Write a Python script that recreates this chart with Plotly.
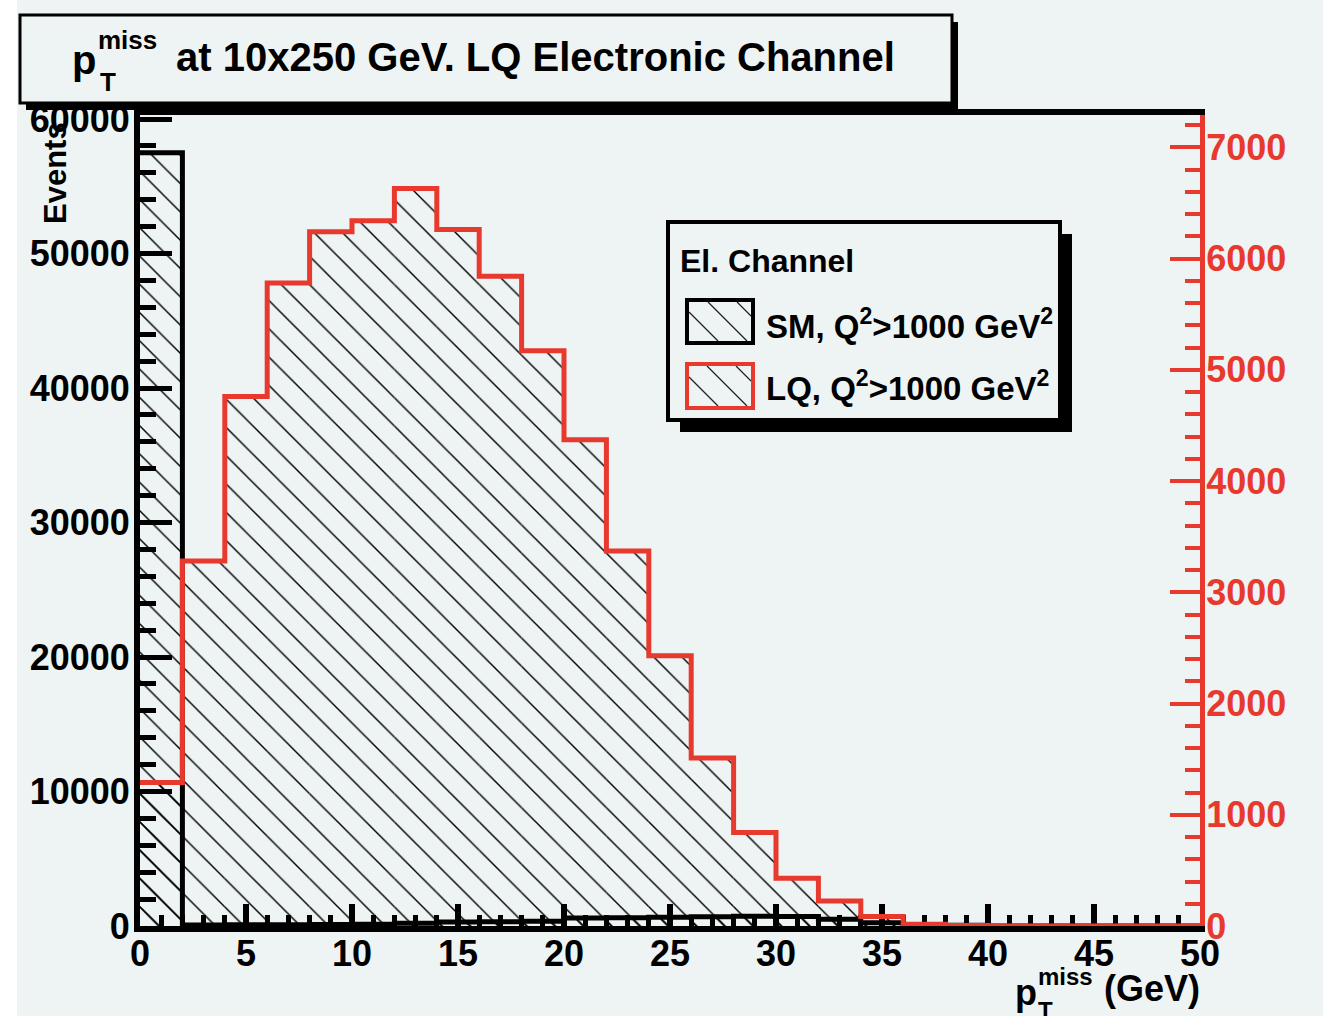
import plotly.graph_objects as go

# ---- histogram data: 2 GeV bins of missing pT ----
bin_edges = list(range(0, 52, 2))
sm_events = [57500, 80, 90, 100, 110, 130, 200, 300, 320, 350, 600, 620, 650,
             680, 720, 700, 500, 250, 100, 50, 0, 0, 0, 0, 0]
lq_events = [1290, 3280, 4760, 5780, 6240, 6340, 6630, 6260, 5840, 5170, 4370,
             3370, 2430, 1510, 840, 430, 225, 85, 15, 5, 0, 0, 0, 0, 0]
x_ticks = [0, 5, 10, 15, 20, 25, 30, 35, 40, 45, 50]

BG = "#eef3f3"
RED = "#e8392f"
FONT = "Liberation Sans"

W, H = 1323, 1016
ML, MR, MT, MB = 140, 123, 115, 90
PW, PH = W - ML - MR, H - MT - MB


def px(x):
    return (x - ML) / PW


def py(y):
    return (H - MB - y) / PH


centers = [(a + b) / 2 for a, b in zip(bin_edges[:-1], bin_edges[1:])]
widths = [b - a for a, b in zip(bin_edges[:-1], bin_edges[1:])]

hatch = dict(shape="\\", size=20, solidity=0.07, fillmode="replace")

fig = go.Figure()
fig.add_trace(go.Bar(x=centers, y=sm_events, width=widths, yaxis="y",
                     marker=dict(color="black", pattern=hatch, line=dict(width=0)),
                     hoverinfo="skip"))
fig.add_trace(go.Scatter(x=bin_edges, y=sm_events + [sm_events[-1]], yaxis="y",
                         mode="lines", line=dict(shape="hv", color="black", width=5),
                         hoverinfo="skip"))
fig.add_trace(go.Bar(x=centers, y=lq_events, width=widths, yaxis="y2",
                     marker=dict(color="black", pattern=hatch, line=dict(width=0)),
                     hoverinfo="skip"))
fig.add_trace(go.Scatter(x=bin_edges, y=lq_events + [lq_events[-1]], yaxis="y2",
                         mode="lines", line=dict(shape="hv", color=RED, width=5),
                         hoverinfo="skip"))

tickfont = dict(family=FONT, size=36, color="black", weight="bold")

fig.update_layout(
    width=W, height=H,
    margin=dict(l=ML, r=MR, t=MT, b=MB),
    paper_bgcolor=BG, plot_bgcolor=BG,
    barmode="overlay", showlegend=False,
    font=dict(family=FONT, size=32, color="black", weight="bold"),
    xaxis=dict(range=[0, 50], tickvals=x_ticks, ticks="inside", ticklen=22,
               tickwidth=6, tickcolor="black",
               minor=dict(ticks="inside", ticklen=11, tickwidth=5, dtick=1,
                          tickcolor="black"),
               showline=True, linewidth=6, linecolor="black", mirror=True,
               showgrid=False, zeroline=False, layer="below traces",
               ticklabelstandoff=-9, tickfont=tickfont),
    yaxis=dict(range=[0, 60300], tick0=0, dtick=10000, tickformat="d",
               ticks="inside", ticklen=32, tickwidth=5, tickcolor="black",
               minor=dict(ticks="inside", ticklen=16, tickwidth=5, dtick=2000,
                          tickcolor="black"),
               showline=True, linewidth=6, linecolor="black",
               showgrid=False, zeroline=False, ticklabelstandoff=-3,
               tickfont=tickfont),
    yaxis2=dict(overlaying="y", side="right", range=[0, 7290], tick0=0,
                dtick=1000, tickformat="d",
                ticks="inside", ticklen=30, tickwidth=4, tickcolor=RED,
                minor=dict(ticks="inside", ticklen=15, tickwidth=4, dtick=200,
                           tickcolor=RED),
                showline=True, linewidth=5, linecolor=RED,
                showgrid=False, zeroline=False, ticklabelstandoff=-6,
                tickfont=dict(family=FONT, size=36, color=RED, weight="bold")),
)


def rect(x0, y0, x1, y1, **kw):
    fig.add_shape(type="rect", xref="paper", yref="paper",
                  x0=px(x0), x1=px(x1), y0=py(y1), y1=py(y0), **kw)


def hatch_box(x0, y0, x1, y1, step=29):
    # 45-degree "\" lines clipped to the box
    c = x0 - (y1 - y0)
    while c < x1:
        sx, sy = c, y0
        if sx < x0:
            sy = y0 + (x0 - sx)
            sx = x0
        ex, ey = c + (y1 - y0), y1
        if ex > x1:
            ey = y1 - (ex - x1)
            ex = x1
        if sy < y1 and sx < x1 and ey > y0:
            fig.add_shape(type="line", xref="paper", yref="paper",
                          x0=px(sx), y0=py(sy), x1=px(ex), y1=py(ey),
                          line=dict(color="#222", width=1.2))
        c += step


# page margin strip
rect(0, 0, 17, H, fillcolor="white", line=dict(width=0), layer="below")

# title box with shadow
rect(26, 22, 958, 110, fillcolor="black", line=dict(width=0))
rect(20, 15, 952, 103, fillcolor=BG, line=dict(color="black", width=3))

# legend box with shadow
rect(680, 234, 1072, 432, fillcolor="black", line=dict(width=0))
rect(668, 222, 1060, 420, fillcolor=BG, line=dict(color="black", width=4))
hatch_box(689, 302, 751, 341)
rect(687, 300, 753, 343, line=dict(color="black", width=4))
hatch_box(689, 366, 751, 406)
rect(687, 364, 753, 408, line=dict(color=RED, width=4))


def text(x, y, s, size, xanchor="left", yanchor="middle", color="black",
         angle=0):
    fig.add_annotation(xref="paper", yref="paper", x=px(x), y=py(y), text=s,
                       showarrow=False, xanchor=xanchor, yanchor=yanchor,
                       textangle=angle,
                       font=dict(family=FONT, size=size, color=color,
                                 weight="bold"))


# title
text(70, 60, "p", 40)
text(96, 40, "miss", 26)
text(98, 82, "T", 26)
text(174, 57, "at 10x250 GeV. LQ Electronic Channel", 40)

# legend texts
text(678, 261, "El. Channel", 32)
text(764, 324, "SM, Q<sup>2</sup>&gt;1000 GeV<sup>2</sup>", 33)
text(764, 386, "LQ, Q<sup>2</sup>&gt;1000 GeV<sup>2</sup>", 33)

# axis titles
text(55, 120, "Events", 31, xanchor="center", yanchor="top", angle=-90)
text(1013, 992, "p", 36)
text(1036, 976, "miss", 24)
text(1036, 1010, "T", 24)
text(1202, 988, "(GeV)", 36, xanchor="right")

fig.write_html("out.html")
